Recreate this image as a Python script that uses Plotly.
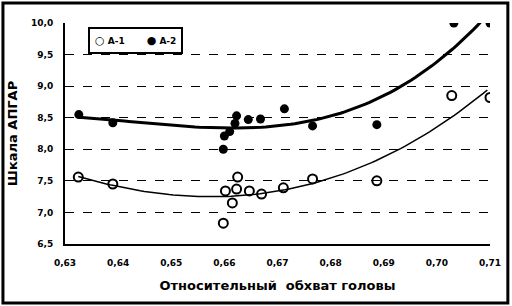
import numpy as np
import plotly.graph_objects as go

# A-2 (filled)
x_a2 = [0.6326, 0.6390, 0.6598, 0.6600, 0.6610, 0.6620, 0.6623, 0.6645, 0.6668, 0.6713, 0.6766, 0.6887, 0.7032, 0.7100]
y_a2 = [8.55, 8.42, 8.00, 8.21, 8.28, 8.41, 8.53, 8.47, 8.48, 8.64, 8.37, 8.39, 10.00, 10.00]
# A-1 (open)
x_a1 = [0.6325, 0.6390, 0.6598, 0.6602, 0.6615, 0.6623, 0.6625, 0.6647, 0.6670, 0.6711, 0.6766, 0.6887, 0.7028, 0.7100]
y_a1 = [7.56, 7.45, 6.83, 7.34, 7.15, 7.37, 7.56, 7.34, 7.29, 7.39, 7.53, 7.50, 8.85, 8.82]

x_ticks = [0.63, 0.64, 0.65, 0.66, 0.67, 0.68, 0.69, 0.70, 0.71]
y_ticks = [6.5, 7.0, 7.5, 8.0, 8.5, 9.0, 9.5, 10.0]
series_names = ["A-1", "A-2"]

FONT = "DejaVu Sans, sans-serif"

fig = go.Figure()

xs = np.linspace(0.6326, 0.71, 100)
c2 = np.polyfit(x_a2, y_a2, 3)
c1 = np.polyfit(x_a1, y_a1, 3)
xs1 = np.linspace(0.6325, 0.7095, 100)

fig.add_trace(go.Scatter(x=xs, y=np.polyval(c2, xs), mode="lines",
                         line=dict(color="black", width=3), showlegend=False, hoverinfo="skip"))
fig.add_trace(go.Scatter(x=xs1, y=np.polyval(c1, xs1), mode="lines",
                         line=dict(color="black", width=1.5), showlegend=False, hoverinfo="skip"))

fig.add_trace(go.Scatter(x=x_a1, y=y_a1, mode="markers", name=series_names[0], showlegend=False,
                         marker=dict(symbol="circle-open", size=9, color="black", line=dict(width=2, color="black"))))
fig.add_trace(go.Scatter(x=x_a2, y=y_a2, mode="markers", name=series_names[1], showlegend=False,
                         marker=dict(symbol="circle", size=9, color="black")))

legend_text = ("<span style='font-size:11px'>○</span> " + series_names[0] +
               "       <span style='font-size:11px'>●</span> " + series_names[1])

fig.update_layout(
    width=512, height=306,
    margin=dict(l=65, r=22, t=23, b=62),
    paper_bgcolor="white", plot_bgcolor="white",
    separators=", ",
    font=dict(family=FONT, size=10, color="black"),
    xaxis=dict(range=[0.63, 0.71], tickvals=x_ticks, tickformat=".2f",
               showgrid=False, zeroline=False, showline=True, linecolor="black", linewidth=2,
               ticks="", ticklabelstandoff=9, tickfont=dict(size=9, family=FONT, weight="bold"),
               title=dict(text="Относительный  обхват головы", font=dict(size=13, family=FONT, weight="bold"),
                          standoff=14)),
    yaxis=dict(range=[6.5, 10.0], tickvals=y_ticks, tickformat=".1f",
               showgrid=True, gridcolor="black", griddash="dash", gridwidth=1,
               zeroline=False, showline=True, linecolor="black", linewidth=2,
               ticks="", ticklabelstandoff=8, tickfont=dict(size=9, family=FONT, weight="bold"),
               title=dict(text="Шкала АПГАР", font=dict(size=13, family=FONT, weight="bold"), standoff=10)),
    shapes=[dict(type="rect", xref="paper", yref="paper", x0=-0.146, x1=1.042, y0=-0.267, y1=1.09,
                 line=dict(color="black", width=3), layer="below")],
    annotations=[dict(text=legend_text, xref="paper", yref="paper", x=0.054, y=0.982,
                      xanchor="left", yanchor="top", showarrow=False, align="left",
                      font=dict(size=9, family=FONT, weight="bold", color="black"),
                      bordercolor="black", borderwidth=2, borderpad=5, bgcolor="white")],
    showlegend=False,
)

fig.write_html("out.html", config={"displayModeBar": False},
               post_script="document.body.style.margin='0';")
